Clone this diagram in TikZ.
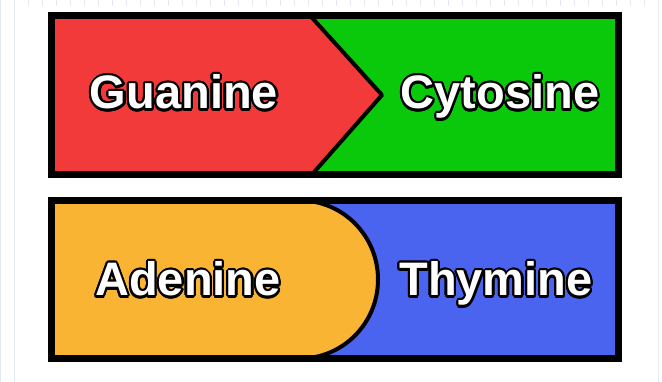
\documentclass[tikz,border=0pt]{standalone}
\usepackage{fontspec}
\setmainfont{Liberation Sans}
\usepackage{xcolor}
\usepackage{contour}
\usepackage{tikz}
\usetikzlibrary{positioning}
\definecolor{guared}{RGB}{242,58,58}
\definecolor{cytgreen}{RGB}{10,200,10}
\definecolor{adeorange}{RGB}{250,180,52}
\definecolor{thyblue}{RGB}{74,100,240}
\definecolor{gridblue}{RGB}{228,234,243}
\contourlength{2.2pt}

\begin{document}
\begin{tikzpicture}[
    x=1pt, y=-1pt,
    % ── Styles ──
    frame/.style={draw=black, line width=7pt, line join=miter},
    divider/.style={draw=black, line width=4pt, line join=round},
    base/.style={font=\fontsize{47}{50}\selectfont\bfseries, text=white,
                 anchor=base, inner sep=0pt}
]
\useasboundingbox (0,0) rectangle (662,382);

% ═══ Page background ═══
\fill[white] (0,0) rectangle (662,382);
\draw[gridblue, step=14] (0,0) grid (662,382);
\fill[white] (16,6) rectangle (648,382);

% ═══ Pair 1: Guanine / Cytosine ═══
\fill[cytgreen] (51.5,15.5) rectangle (618.5,174.5);
\fill[guared] (51.5,15.5) -- (310,15.5) -- (382,95) -- (312,174.5)
  -- (51.5,174.5) -- cycle;
\draw[divider] (310,15.5) -- (382,95) -- (312,174.5);
\draw[frame] (51.5,15.5) rectangle (618.5,174.5);

% ═══ Pair 2: Adenine / Thymine ═══
\fill[thyblue] (51.5,200.5) rectangle (618.5,358.5);
\fill[adeorange] (51.5,200.5) -- (300,200.5)
  arc[start angle=90, end angle=-90, x radius=78, y radius=-79]
  -- (51.5,358.5) -- cycle;
\draw[divider] (300,200.5)
  arc[start angle=90, end angle=-90, x radius=78, y radius=-79];
\draw[frame] (51.5,200.5) rectangle (618.5,358.5);

% ═══ Base labels ═══
\node[base] (gua) at (184,109) {\contour{black}{Guanine}};
\node[base] (cyt) at (500,109) {\contour{black}{Cytosine}};
\node[base] (ade) at (188,296) {\contour{black}{Adenine}};
\node[base] (thy) at (496,296) {\contour{black}{Thymine}};

\end{tikzpicture}
\end{document}
